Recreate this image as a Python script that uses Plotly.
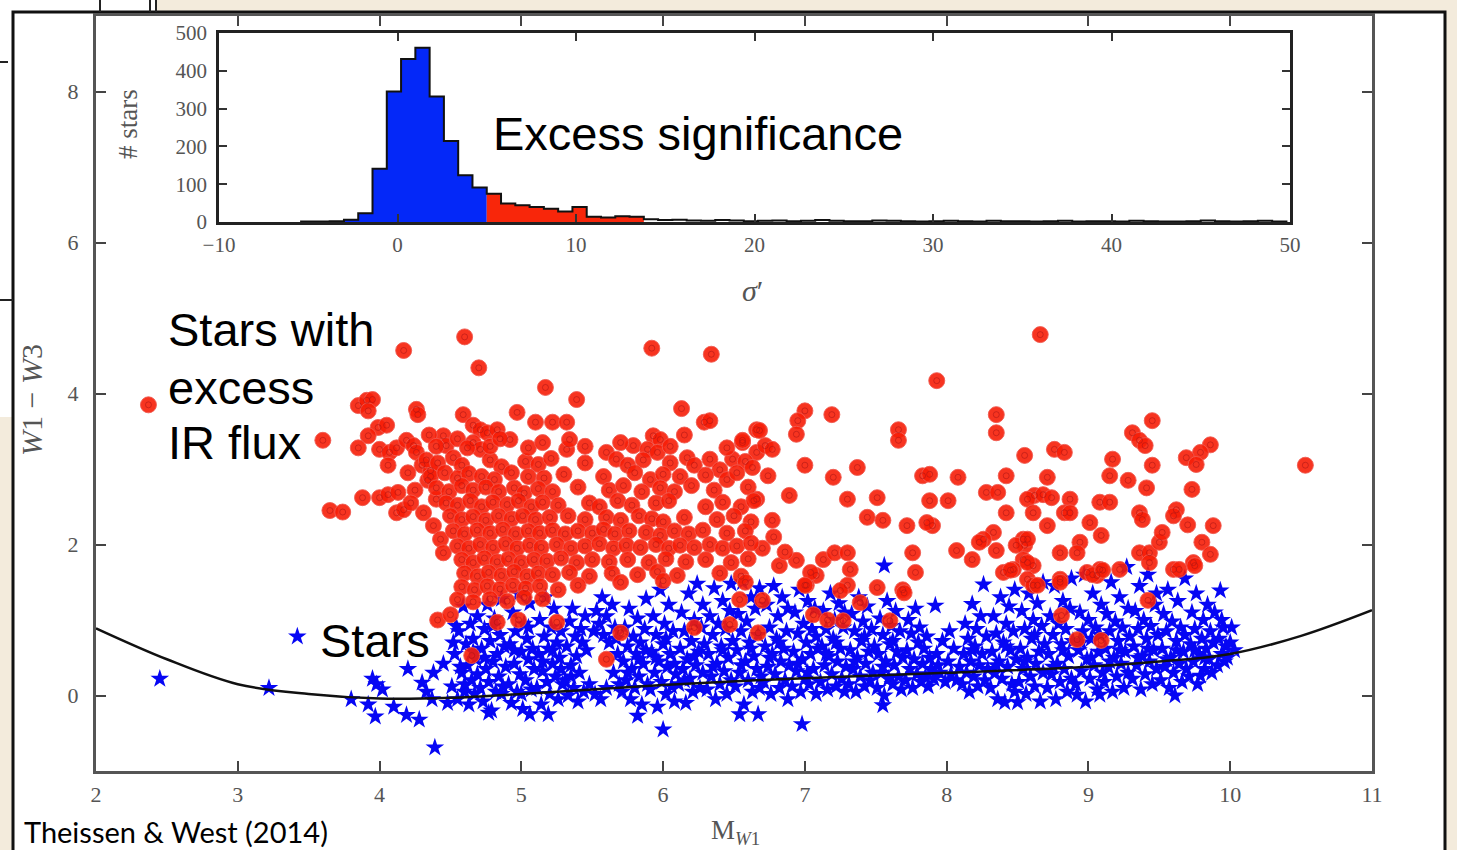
import plotly.graph_objects as go

W, H = 1457, 850

# ---------------- inset histogram of excess significance (sigma') ----------------
SIG_BIN_START = -5.4
SIG_BIN_WIDTH = 0.8
COUNTS_BELOW = [1, 1, 2, 6, 23, 141, 345, 431, 461, 332, 214, 124, 91]      # sigma' < 5
COUNTS_EXCESS = [75, 49, 44, 40, 35, 28, 40, 14, 12, 15, 14]               # 5 <= sigma' < 13.8
COUNTS_TAIL = [7, 5, 6, 4, 3, 5, 4, 2, 3, 4, 2, 3, 5, 3, 2, 2, 4, 3, 2, 1, 2, 3, 2,
               1, 3, 2, 2, 1, 2, 3, 1, 2, 2, 1, 3, 2, 1, 1, 2, 4, 2, 1, 2, 3, 1]
SIG_TICKS = [-10, 0, 10, 20, 30, 40, 50]
COUNT_TICKS = [0, 100, 200, 300, 400, 500]

# ---------------- colour-magnitude diagram: M_W1 vs W1 - W3 ----------------
MW1_TICKS = [2, 3, 4, 5, 6, 7, 8, 9, 10, 11]
COLOR_TICKS = [0, 2, 4, 6, 8]

# photospheric W1-W3 relation
CURVE_MW1 = [2.0, 2.5, 3.0, 3.5, 4.0, 4.5, 5.0, 5.5, 6.0, 7.0, 8.0, 9.0, 9.5, 10.0, 10.5, 11.0]
CURVE_COLOR = [0.89, 0.48, 0.15, 0.02, -0.04, -0.03, 0.02, 0.08, 0.14, 0.23, 0.30, 0.38, 0.45, 0.55, 0.79, 1.13]

# stars with excess IR flux (M_W1, W1-W3)
RED_UPPER = [
    (2.37, 3.85), (3.60, 3.38), (3.65, 2.45), (3.74, 2.43), (4.17, 4.57), (4.60, 4.75), (4.70, 4.34),
    (5.17, 4.08), (5.39, 3.92), (5.92, 4.60), (6.34, 4.52), (6.13, 3.80), (7.93, 4.17), (8.66, 4.78),
    (10.53, 3.05), (4.59, 3.72), (4.97, 3.75), (5.10, 3.62), (5.22, 3.62), (5.32, 3.62), (6.29, 3.62),
    (6.33, 3.64),
]
RED_LEFT = [
    (3.85, 3.84), (3.91, 3.91), (3.95, 3.92), (3.92, 3.77), (3.99, 3.55), (4.05, 3.58), (3.92, 3.44),
    (3.85, 3.28), (4.00, 3.26), (4.07, 3.22), (4.12, 3.28), (4.19, 3.38), (4.26, 3.79), (4.27, 3.72),
    (4.06, 3.05), (4.24, 3.31), (4.26, 3.22), (4.45, 3.44), (4.47, 3.31), (4.00, 2.62), (4.06, 2.66),
    (4.13, 2.69), (4.25, 2.72), (4.12, 2.42), (4.17, 2.46), (4.31, 2.42), (4.38, 2.25), (4.43, 2.07),
    (4.45, 1.89), (3.88, 2.62), (4.20, 2.95), (4.30, 3.05), (4.34, 2.85), (4.40, 2.60), (4.36, 2.98),
    (4.22, 2.55), (4.66, 3.58), (4.71, 3.52), (4.76, 3.48), (4.83, 3.52), (4.92, 3.39), (4.66, 3.35),
    (4.71, 3.26), (5.32, 3.26), (5.34, 3.39), (5.60, 3.22), (5.67, 3.13),
]
RED_MID = [
    (5.93, 3.44), (5.98, 3.39), (5.79, 3.31), (5.89, 3.26), (5.96, 3.22), (6.17, 3.15), (6.33, 3.13),
    (6.40, 2.99), (6.49, 3.13), (6.56, 3.35), (6.66, 3.52), (6.66, 3.22), (7.00, 3.77), (6.95, 3.64),
    (6.94, 3.46), (7.19, 3.72), (6.68, 3.51), (6.72, 3.31), (6.77, 3.26), (6.56, 3.38), (7.00, 3.05),
    (6.74, 2.91), (6.89, 2.65), (6.66, 2.60), (6.77, 2.32), (7.20, 2.89), (7.37, 3.02), (7.30, 2.60),
    (7.51, 2.62), (7.44, 2.36), (7.55, 2.32), (7.13, 1.80), (7.21, 1.89), (7.30, 1.89), (7.32, 1.67),
    (7.30, 1.46), (7.25, 1.39), (7.08, 1.59), (7.01, 1.46), (6.82, 1.72), (6.94, 1.79), (7.04, 1.63),
    (7.00, 1.46), (6.70, 1.95), (6.78, 2.10), (6.86, 1.90),
]
RED_RIGHT = [
    (7.66, 3.52), (7.66, 3.38), (8.35, 3.72), (8.35, 3.48), (9.45, 3.64), (9.31, 3.48), (9.36, 3.38),
    (9.40, 3.31), (9.86, 3.32), (9.79, 3.22), (9.69, 3.15), (9.76, 3.06), (8.55, 3.18), (8.76, 3.26),
    (8.83, 3.22), (9.17, 3.13), (9.15, 2.91), (9.28, 2.85), (9.41, 2.75), (9.45, 3.05), (7.83, 2.91),
    (7.88, 2.93), (8.08, 2.89), (7.88, 2.58), (8.01, 2.58), (8.42, 2.91), (8.28, 2.69), (8.36, 2.69),
    (8.71, 2.89), (8.62, 2.65), (8.68, 2.66), (8.74, 2.62), (8.87, 2.60), (8.83, 2.42), (9.08, 2.56),
    (9.15, 2.56), (9.73, 2.73), (9.36, 2.42), (9.38, 2.33), (9.62, 2.46), (9.60, 2.38), (9.70, 2.26),
    (9.88, 2.25), (9.80, 2.03), (8.57, 2.60), (8.61, 2.42), (8.71, 2.25), (8.54, 2.07), (8.55, 1.99),
    (8.42, 2.42), (8.33, 2.16), (8.26, 2.07), (8.23, 2.03), (8.87, 2.42), (9.01, 2.29), (9.09, 2.12),
    (8.94, 2.03), (8.80, 1.89), (8.92, 1.89), (9.36, 1.89), (9.43, 1.89), (9.50, 2.03), (9.52, 2.16),
    (9.74, 1.76), (9.60, 1.67), (9.08, 1.67), (9.22, 1.67), (8.99, 1.63), (9.06, 1.59), (8.07, 1.92),
    (8.18, 1.80), (8.35, 1.92), (8.49, 1.99), (8.57, 2.07), (8.54, 1.80), (8.61, 1.72), (8.57, 1.54),
    (8.47, 1.67), (8.40, 1.63), (8.61, 1.46), (8.80, 1.54), (7.76, 1.89), (7.78, 1.63), (7.69, 1.40),
    (7.72, 2.25), (7.90, 2.25), (7.86, 2.29), (7.51, 1.43), (7.39, 1.23), (8.45, 1.66), (8.57, 1.76),
    (9.03, 1.60), (9.10, 1.66), (9.64, 1.67), (9.75, 1.72), (9.43, 1.76), (9.86, 1.87),
]
RED_LOW = [
    (4.41, 1.00), (4.50, 1.07), (4.83, 0.97), (4.98, 1.00), (5.25, 0.97), (4.65, 0.53), (5.60, 0.48),
    (5.70, 0.83), (6.22, 0.90), (6.47, 0.94), (6.67, 0.83), (6.54, 1.27), (6.70, 1.26), (7.06, 1.07),
    (7.16, 1.00), (7.27, 0.99), (7.60, 0.99), (7.70, 1.36), (8.81, 1.06), (8.92, 0.74), (9.09, 0.73),
    (9.42, 1.26), (8.64, 1.46), (8.80, 1.50),
]
RED_CORE = [
    (4.33, 3.12), (4.41, 3.08), (4.52, 3.15), (4.58, 3.05), (4.78, 3.12), (4.86, 3.03), (5.03, 3.10),
    (5.12, 3.06), (5.21, 3.14), (5.45, 3.08), (5.75, 3.05), (5.86, 3.12), (6.05, 3.08), (6.22, 3.05),
    (6.58, 3.10), (6.63, 3.02),
    (4.36, 2.90), (4.46, 2.95), (4.55, 2.88), (4.63, 2.94), (4.72, 2.90), (4.81, 2.86), (4.93, 2.95),
    (5.05, 2.90), (5.16, 2.88), (5.30, 2.93), (5.58, 2.90), (5.80, 2.95), (5.91, 2.86), (6.00, 2.93),
    (6.12, 2.90), (6.30, 2.92), (6.45, 2.86), (6.52, 2.95),
    (4.40, 2.75), (4.49, 2.70), (4.58, 2.78), (4.66, 2.72), (4.75, 2.76), (4.84, 2.70), (4.95, 2.75),
    (5.02, 2.68), (5.12, 2.74), (5.22, 2.70), (5.40, 2.76), (5.62, 2.72), (5.72, 2.78), (5.85, 2.70),
    (5.98, 2.75), (6.08, 2.70), (6.20, 2.78), (6.36, 2.72), (6.60, 2.76),
    (4.47, 2.55), (4.55, 2.52), (4.64, 2.58), (4.72, 2.50), (4.80, 2.56), (4.90, 2.53), (4.98, 2.58),
    (5.07, 2.50), (5.15, 2.56), (5.26, 2.52), (5.48, 2.55), (5.55, 2.50), (5.68, 2.58), (5.78, 2.52),
    (5.95, 2.55), (6.04, 2.58), (6.30, 2.50), (6.42, 2.56), (6.55, 2.50), (6.64, 2.58),
    (4.50, 2.38), (4.58, 2.33), (4.66, 2.37), (4.75, 2.32), (4.84, 2.38), (4.93, 2.34), (5.01, 2.38),
    (5.10, 2.33), (5.20, 2.36), (5.33, 2.38), (5.45, 2.33), (5.60, 2.36), (5.70, 2.32), (5.83, 2.38),
    (5.92, 2.34), (6.00, 2.30), (6.15, 2.36), (6.38, 2.33), (6.50, 2.38), (6.62, 2.30),
    (4.52, 2.18), (4.60, 2.14), (4.69, 2.19), (4.78, 2.15), (4.87, 2.20), (4.96, 2.14), (5.05, 2.18),
    (5.13, 2.15), (5.22, 2.19), (5.31, 2.14), (5.40, 2.18), (5.50, 2.15), (5.58, 2.20), (5.66, 2.14),
    (5.76, 2.18), (5.88, 2.16), (5.98, 2.12), (6.08, 2.18), (6.18, 2.14), (6.28, 2.19), (6.45, 2.15),
    (6.58, 2.18),
    (4.55, 1.98), (4.63, 1.95), (4.71, 2.00), (4.80, 1.96), (4.89, 2.01), (4.97, 1.95), (5.06, 1.99),
    (5.14, 1.96), (5.25, 2.00), (5.35, 1.95), (5.45, 1.98), (5.55, 2.01), (5.65, 1.95), (5.74, 1.99),
    (5.84, 1.96), (5.95, 2.00), (6.04, 1.95), (6.12, 1.99), (6.22, 1.96), (6.33, 2.00), (6.42, 1.95),
    (6.52, 1.98), (6.62, 2.02),
    (4.58, 1.80), (4.66, 1.76), (4.74, 1.82), (4.83, 1.77), (4.91, 1.81), (5.00, 1.76), (5.09, 1.80),
    (5.18, 1.78), (5.28, 1.82), (5.39, 1.76), (5.50, 1.80), (5.62, 1.77), (5.75, 1.80), (5.90, 1.76),
    (6.02, 1.81), (6.16, 1.77), (6.30, 1.80), (6.48, 1.76), (6.60, 1.81),
    (4.60, 1.62), (4.69, 1.58), (4.77, 1.63), (4.86, 1.59), (4.95, 1.64), (5.04, 1.58), (5.12, 1.62),
    (5.22, 1.60), (5.34, 1.63), (5.48, 1.58), (5.64, 1.62), (5.82, 1.60), (5.96, 1.64), (6.10, 1.59),
    (6.40, 1.62), (6.55, 1.58),
    (4.58, 1.44), (4.67, 1.40), (4.76, 1.45), (4.85, 1.41), (4.94, 1.46), (5.03, 1.42), (5.13, 1.45),
    (5.26, 1.40), (5.40, 1.46), (5.70, 1.50), (6.00, 1.52), (6.58, 1.50),
    (4.55, 1.27), (4.66, 1.24), (4.78, 1.28), (4.90, 1.25), (5.02, 1.30), (5.15, 1.28),
    (4.35, 3.45), (4.40, 3.30), (4.55, 3.40), (4.62, 3.28), (4.78, 3.30), (4.85, 3.40), (5.05, 3.28),
    (5.15, 3.35), (5.45, 3.30), (5.70, 3.35), (6.05, 3.30), (6.15, 3.45), (6.45, 3.28),
]

# stars without excess (M_W1, W1-W3)
BLUE_SPARSE = [
    (2.45, 0.22), (3.22, 0.10), (3.42, 0.78), (3.80, -0.05), (3.92, -0.12), (3.95, 0.22), (3.98, 0.15),
    (4.02, 0.08), (3.97, -0.28), (4.19, -0.26), (4.30, 0.17), (4.37, -0.05), (4.28, -0.32), (4.39, -0.69),
    (4.33, 0.05), (4.20, 0.35), (4.38, 0.30), (4.45, 0.42), (4.10, -0.15), (4.48, -0.10), (4.77, -0.23),
    (5.06, -0.25), (5.19, -0.25), (5.82, -0.27), (6.00, -0.45), (6.54, -0.25), (6.67, -0.25),
    (6.98, -0.38), (7.55, -0.13), (7.56, 1.72), (9.93, 1.39), (9.89, 1.10), (10.01, 0.90), (7.92, 1.19),
    (8.26, 1.47), (8.18, 1.21), (8.50, -0.09), (8.41, -0.09), (9.61, 0.00), (9.79, 0.26),
]
BLUE_45_57 = [
    (4.51, 0.12), (4.53, 0.55), (4.55, -0.05), (4.56, 0.85), (4.58, 0.30), (4.59, 1.18), (4.60, 0.05),
    (4.61, 0.68), (4.62, 0.40), (4.63, -0.12), (4.64, 0.95), (4.65, 0.20), (4.66, 0.75), (4.67, 0.02),
    (4.68, 0.48), (4.69, 1.05), (4.69, 0.28), (4.52, 0.70), (4.57, 0.38), (4.66, 0.58), (4.60, 0.15),
    (4.54, 0.92),
    (4.71, 0.10), (4.72, 0.62), (4.73, -0.08), (4.74, 0.88), (4.75, 0.35), (4.76, 1.20), (4.77, 0.18),
    (4.78, 0.72), (4.79, -0.20), (4.80, 0.45), (4.81, 1.02), (4.82, 0.05), (4.83, 0.55), (4.84, 0.25),
    (4.85, 0.80), (4.86, 1.28), (4.87, 0.12), (4.88, 0.65), (4.89, 0.38), (4.74, 0.50), (4.80, 0.92),
    (4.86, 0.02),
    (4.91, 0.15), (4.92, 0.68), (4.93, -0.10), (4.94, 1.10), (4.95, 0.42), (4.96, 0.85), (4.97, 0.05),
    (4.98, 1.35), (4.99, 0.28), (5.00, 0.58), (5.01, -0.18), (5.02, 0.95), (5.03, 0.20), (5.04, 0.75),
    (5.05, 0.48), (5.06, 1.22), (5.07, 0.08), (5.08, 0.62), (5.09, 0.35), (5.00, 0.02), (4.95, 0.60),
    (5.05, 0.90),
    (5.11, 0.10), (5.12, 0.55), (5.13, 1.00), (5.14, -0.12), (5.15, 0.32), (5.16, 0.78), (5.17, 1.30),
    (5.18, 0.18), (5.19, 0.62), (5.20, 0.02), (5.21, 0.90), (5.22, 0.42), (5.23, 1.15), (5.24, 0.25),
    (5.25, 0.70), (5.26, -0.05), (5.27, 0.50), (5.28, 0.85), (5.29, 0.15), (5.15, 0.45), (5.22, 0.60),
    (5.28, 0.35),
    (5.31, 0.20), (5.32, 0.65), (5.33, 0.00), (5.34, 0.98), (5.35, 0.40), (5.36, 1.15), (5.37, 0.10),
    (5.38, 0.78), (5.39, 0.52), (5.40, -0.08), (5.41, 0.30), (5.42, 0.88), (5.44, 0.05), (5.45, 1.05),
    (5.46, 0.60), (5.48, 0.15), (5.35, 0.25), (5.43, 0.70),
    (5.51, 0.85), (5.53, 1.12), (5.55, 0.95), (5.57, 1.30), (5.58, 0.80), (5.60, 1.05), (5.62, 0.70),
    (5.64, 1.20), (5.66, 0.90), (5.52, 0.02), (5.56, -0.05), (5.60, 0.10), (5.65, 0.30), (5.68, 0.55),
    (5.69, 0.15), (5.67, 0.75),
]
BLUE_57_79 = [
    (5.71, 0.05), (5.72, 0.45), (5.73, 0.90), (5.74, 0.20), (5.75, 0.65), (5.76, 1.15), (5.77, -0.05),
    (5.78, 0.35), (5.79, 0.78), (5.80, 0.10), (5.81, 0.55), (5.82, 1.02), (5.83, 0.25), (5.84, 0.70),
    (5.85, -0.12), (5.86, 0.42), (5.87, 0.88), (5.88, 1.28), (5.89, 0.15), (5.75, 0.30), (5.83, 0.48),
    (5.88, 0.60),
    (5.91, 0.08), (5.92, 0.58), (5.93, 1.05), (5.94, 0.30), (5.95, 0.80), (5.96, -0.15), (5.97, 0.45),
    (5.98, 1.40), (5.99, 0.18), (6.00, 0.68), (6.01, 0.95), (6.02, 0.02), (6.03, 0.38), (6.04, 1.20),
    (6.05, 0.55), (6.06, 0.12), (6.07, 0.85), (6.08, -0.08), (6.09, 0.28), (5.95, 0.50), (6.02, 0.75),
    (6.08, 0.42),
    (6.11, 0.15), (6.12, 0.62), (6.13, 1.10), (6.14, 0.35), (6.15, 0.85), (6.16, -0.10), (6.17, 0.48),
    (6.18, 1.35), (6.19, 0.22), (6.20, 0.72), (6.21, 0.05), (6.22, 1.00), (6.23, 0.40), (6.24, 1.48),
    (6.25, 0.58), (6.26, 0.10), (6.27, 0.90), (6.28, 0.30), (6.29, 0.68), (6.15, 0.20), (6.22, 0.52),
    (6.28, 1.20),
    (6.31, 0.08), (6.32, 0.55), (6.33, 1.05), (6.34, 0.25), (6.35, 0.80), (6.36, 1.42), (6.37, -0.05),
    (6.38, 0.42), (6.39, 0.95), (6.40, 0.15), (6.41, 0.65), (6.42, 1.25), (6.43, 0.32), (6.44, 0.88),
    (6.45, 0.02), (6.46, 0.50), (6.47, 1.12), (6.48, 0.20), (6.49, 0.72), (6.35, 0.38), (6.42, 0.60),
    (6.48, 1.48),
    (6.51, 0.12), (6.52, 0.60), (6.53, 1.08), (6.54, 0.30), (6.55, 0.85), (6.56, 1.50), (6.57, -0.12),
    (6.58, 0.45), (6.59, 0.98), (6.60, 0.20), (6.61, 0.70), (6.62, 1.30), (6.63, 0.05), (6.64, 0.52),
    (6.65, 1.15), (6.66, 0.35), (6.67, 0.80), (6.68, 1.42), (6.69, 0.25), (6.55, 0.40), (6.62, 0.62),
    (6.68, 0.10),
    (6.71, 0.18), (6.72, 0.65), (6.73, 1.20), (6.74, 0.38), (6.75, 0.90), (6.76, 0.02), (6.77, 0.55),
    (6.78, 1.45), (6.79, 0.28), (6.80, 0.75), (6.81, 1.05), (6.82, 0.10), (6.83, 0.45), (6.84, 1.30),
    (6.85, 0.62), (6.86, 0.20), (6.87, 0.85), (6.88, -0.05), (6.89, 0.40), (6.75, 0.50), (6.82, 0.70),
    (6.88, 1.15),
    (6.91, 0.12), (6.92, 0.58), (6.93, 1.10), (6.94, 0.32), (6.95, 0.82), (6.96, 1.40), (6.97, 0.05),
    (6.98, 0.48), (6.99, 0.95), (7.00, 0.22), (7.01, 0.70), (7.02, 1.25), (7.03, 0.15), (7.04, 0.55),
    (7.05, 0.88), (7.06, 0.35), (7.07, 1.15), (7.08, 0.02), (7.09, 0.62), (6.95, 0.42), (7.02, 0.30),
    (7.08, 0.78),
    (7.11, 0.18), (7.12, 0.65), (7.13, 1.12), (7.14, 0.40), (7.15, 0.88), (7.16, 0.08), (7.17, 0.52),
    (7.18, 1.35), (7.19, 0.28), (7.20, 0.75), (7.21, 1.00), (7.22, 0.12), (7.23, 0.45), (7.24, 1.22),
    (7.25, 0.62), (7.26, 0.22), (7.27, 0.90), (7.28, 0.05), (7.29, 0.38), (7.15, 0.55), (7.22, 0.70),
    (7.28, 1.10),
    (7.31, 0.15), (7.32, 0.60), (7.33, 1.08), (7.34, 0.35), (7.35, 0.85), (7.36, 0.05), (7.37, 0.50),
    (7.38, 1.30), (7.39, 0.25), (7.40, 0.72), (7.41, 0.98), (7.42, 0.12), (7.43, 0.42), (7.44, 1.18),
    (7.45, 0.58), (7.46, 0.20), (7.47, 0.88), (7.48, 0.30), (7.49, 0.65), (7.35, 0.45), (7.42, 0.78),
    (7.51, 0.10), (7.52, 0.55), (7.53, 1.02), (7.54, 0.30), (7.55, 0.80), (7.56, 0.00), (7.57, 0.45),
    (7.58, 1.25), (7.59, 0.22), (7.60, 0.68), (7.61, 0.92), (7.62, 0.15), (7.63, 0.40), (7.64, 1.12),
    (7.65, 0.58), (7.66, 0.25), (7.67, 0.85), (7.68, 0.08), (7.69, 0.50), (7.55, 0.38), (7.62, 0.72),
    (7.71, 0.20), (7.72, 0.60), (7.73, 1.00), (7.74, 0.35), (7.75, 0.82), (7.76, 0.10), (7.77, 0.48),
    (7.78, 1.15), (7.79, 0.28), (7.80, 0.70), (7.81, 0.90), (7.82, 0.18), (7.83, 0.42), (7.84, 0.62),
    (7.85, 0.25), (7.86, 0.78), (7.87, 0.12), (7.88, 0.50), (7.89, 0.35),
]
BLUE_79_101 = [
    (7.91, 0.22), (7.93, 0.55), (7.95, 0.30), (7.97, 0.72), (7.99, 0.18), (8.01, 0.45), (8.03, 0.28),
    (8.05, 0.62), (8.07, 0.20), (8.09, 0.38), (7.94, 0.40), (8.02, 0.85),
    (8.11, 0.15), (8.12, 0.55), (8.13, 0.95), (8.14, 0.30), (8.15, 0.75), (8.16, 0.05), (8.17, 0.45),
    (8.19, 0.25), (8.20, 0.65), (8.21, 0.88), (8.22, 0.12), (8.23, 0.40), (8.24, 1.05), (8.25, 0.55),
    (8.27, 0.20), (8.28, 0.78), (8.29, 0.35), (8.18, 0.60),
    (8.31, 0.10), (8.32, 0.58), (8.33, 1.05), (8.34, 0.30), (8.35, 0.82), (8.36, -0.05), (8.37, 0.45),
    (8.38, 1.30), (8.39, 0.22), (8.40, 0.70), (8.42, 0.95), (8.43, 0.38), (8.44, 1.18), (8.45, 0.60),
    (8.46, 0.15), (8.47, 0.85), (8.48, 0.05), (8.49, 0.48), (8.35, 0.40), (8.42, 0.65), (8.48, 1.40),
    (8.51, 0.18), (8.52, 0.62), (8.53, 1.12), (8.54, 0.35), (8.55, 0.88), (8.56, 0.02), (8.57, 0.50),
    (8.58, 1.35), (8.59, 0.25), (8.60, 0.75), (8.61, 1.00), (8.62, 0.12), (8.63, 0.42), (8.64, 1.22),
    (8.65, 0.58), (8.66, -0.08), (8.67, 0.92), (8.68, 0.30), (8.69, 0.68), (8.55, 0.45), (8.62, 0.80),
    (8.68, 1.50),
    (8.71, 0.10), (8.72, 0.55), (8.73, 1.05), (8.74, 0.28), (8.75, 0.80), (8.76, 1.45), (8.77, -0.05),
    (8.78, 0.42), (8.79, 0.95), (8.80, 0.18), (8.81, 0.68), (8.82, 1.25), (8.83, 0.35), (8.84, 0.88),
    (8.85, 0.05), (8.86, 0.52), (8.87, 1.15), (8.88, 0.22), (8.89, 0.72), (8.75, 0.38), (8.82, 0.60),
    (8.88, 1.55),
    (8.91, 0.15), (8.92, 0.01), (8.93, 0.60), (8.94, 1.10), (8.95, 0.32), (8.96, 0.85), (8.97, 1.60),
    (8.98, -0.08), (8.99, 0.48), (9.00, 1.00), (9.01, 0.22), (9.02, 0.75), (9.03, 1.35), (9.04, 0.40),
    (9.05, 0.90), (9.06, 0.08), (9.07, 0.58), (9.08, 0.01), (9.09, 1.20), (9.10, 0.30), (8.95, 0.70),
    (9.02, 0.50), (9.08, 0.80),
    (9.11, 0.18), (9.12, 0.62), (9.13, 1.08), (9.14, 0.38), (9.15, 0.85), (9.16, 1.50), (9.17, 0.05),
    (9.18, 0.50), (9.19, 0.98), (9.20, 0.25), (9.21, 0.72), (9.22, 1.30), (9.23, 0.42), (9.24, 0.90),
    (9.25, 0.10), (9.26, 0.58), (9.27, 1.70), (9.28, 0.30), (9.29, 0.78), (9.15, 0.45), (9.22, 0.60),
    (9.28, 1.15),
    (9.31, 0.22), (9.32, 0.65), (9.33, 1.12), (9.34, 0.40), (9.35, 0.88), (9.36, 1.45), (9.37, 0.08),
    (9.38, 0.52), (9.39, 1.00), (9.40, 0.28), (9.41, 0.75), (9.42, 1.60), (9.43, 0.45), (9.44, 0.92),
    (9.45, 0.15), (9.46, 0.60), (9.47, 1.20), (9.48, 0.35), (9.49, 0.80), (9.35, 0.50), (9.42, 0.62),
    (9.48, 1.35),
    (9.51, 0.20), (9.52, 0.62), (9.53, 1.08), (9.54, 0.38), (9.55, 0.85), (9.56, 1.40), (9.57, 0.10),
    (9.58, 0.50), (9.59, 0.98), (9.60, 0.30), (9.62, 0.72), (9.63, 1.25), (9.64, 0.42), (9.65, 0.90),
    (9.66, 0.18), (9.67, 0.58), (9.68, 1.55), (9.69, 0.35), (9.55, 0.48), (9.62, 0.60), (9.68, 0.80),
    (9.71, 0.25), (9.72, 0.68), (9.73, 1.10), (9.74, 0.45), (9.75, 0.88), (9.76, 1.35), (9.77, 0.15),
    (9.78, 0.55), (9.80, 0.75), (9.81, 1.00), (9.82, 0.35), (9.83, 0.62), (9.84, 1.20), (9.85, 0.48),
    (9.86, 0.85), (9.87, 0.30), (9.88, 0.70), (9.75, 0.60), (9.82, 0.50),
    (9.91, 0.40), (9.92, 0.75), (9.94, 0.55), (9.95, 0.90), (9.96, 0.45), (9.97, 0.65), (9.98, 0.50),
    (10.00, 0.70), (10.03, 0.60), (9.94, 1.00),
]


def px(x):
    return x / W


def py(y):
    return 1 - y / H


def step_outline(start, width, counts):
    edges = [round(start + i * width, 4) for i in range(len(counts) + 1)]
    xs = [edges[0]] + edges[:-1] + [edges[-1]]
    ys = [0] + list(counts) + [0]
    return xs, ys


BLUE = BLUE_SPARSE + BLUE_45_57 + BLUE_57_79 + BLUE_79_101
RED = RED_UPPER + RED_LEFT + RED_MID + RED_RIGHT + RED_LOW + RED_CORE
red_x = [p[0] for p in RED]
red_y = [p[1] for p in RED]

fig = go.Figure()

# stars consistent with photospheric colours
fig.add_trace(go.Scatter(
    x=[p[0] for p in BLUE], y=[p[1] for p in BLUE], mode="markers",
    marker=dict(symbol="star", size=14, color="#0606f4", line=dict(width=0)),
    xaxis="x", yaxis="y", hoverinfo="skip",
))
# photospheric relation
fig.add_trace(go.Scatter(
    x=CURVE_MW1, y=CURVE_COLOR, mode="lines", line=dict(color="#111", width=2.5, shape="spline"),
    xaxis="x", yaxis="y", hoverinfo="skip",
))
# stars with IR excess: filled disc plus the small inner ring of the marker
fig.add_trace(go.Scatter(
    x=red_x, y=red_y, mode="markers",
    marker=dict(symbol="circle", size=16, color="rgba(246,30,8,0.9)",
                line=dict(width=1, color="rgba(240,90,80,0.9)")),
    xaxis="x", yaxis="y", hoverinfo="skip",
))
fig.add_trace(go.Scatter(
    x=red_x, y=red_y, mode="markers",
    marker=dict(symbol="circle-open", size=6, color="rgba(170,20,20,0.55)", line=dict(width=1)),
    xaxis="x", yaxis="y", hoverinfo="skip",
))

# inset histogram
n_below = len(COUNTS_BELOW)
x_start_excess = SIG_BIN_START + n_below * SIG_BIN_WIDTH

bx, by = step_outline(SIG_BIN_START, SIG_BIN_WIDTH, COUNTS_BELOW)
fig.add_trace(go.Scatter(x=bx, y=by, mode="lines", line=dict(width=0, shape="hv"),
                         fill="tozeroy", fillcolor="#0428f8", xaxis="x2", yaxis="y2", hoverinfo="skip"))
rx, ry = step_outline(x_start_excess, SIG_BIN_WIDTH, COUNTS_EXCESS)
fig.add_trace(go.Scatter(x=rx, y=ry, mode="lines", line=dict(width=0, shape="hv"),
                         fill="tozeroy", fillcolor="#f8260a", xaxis="x2", yaxis="y2", hoverinfo="skip"))
ax, ay = step_outline(SIG_BIN_START, SIG_BIN_WIDTH, COUNTS_BELOW + COUNTS_EXCESS + COUNTS_TAIL)
fig.add_trace(go.Scatter(x=ax, y=ay, mode="lines", line=dict(width=2, color="#111", shape="hv"),
                         xaxis="x2", yaxis="y2", hoverinfo="skip"))

tick_font = dict(family="Liberation Serif, DejaVu Serif, serif", size=22, color="#555")
inset_font = dict(family="Liberation Serif, DejaVu Serif, serif", size=21, color="#555")

main_dom_x = [px(96), px(1372)]
main_dom_y = [py(771), py(16)]
inset_dom_x = [px(219), px(1290)]
inset_dom_y = [py(222), py(33)]

common = dict(showgrid=False, zeroline=False, automargin=False, ticks="inside")

fig.update_layout(
    template="none",
    width=W, height=H,
    autosize=False,
    margin=dict(l=0, r=0, t=0, b=0, pad=0),
    paper_bgcolor="#f3ebdc",
    plot_bgcolor="white",
    showlegend=False,
    xaxis=dict(domain=main_dom_x, anchor="y", range=[2, 11], tickvals=MW1_TICKS,
               ticklen=10, tickwidth=2, tickcolor="#444",
               showline=True, linewidth=3, linecolor="#555", mirror="ticks",
               tickfont=tick_font, ticklabelstandoff=2, **common),
    yaxis=dict(domain=main_dom_y, anchor="x", range=[-1, 9], tickvals=COLOR_TICKS,
               ticklen=10, tickwidth=2, tickcolor="#444",
               showline=True, linewidth=3, linecolor="#555", mirror="ticks",
               tickfont=tick_font, ticklabelstandoff=10, **common),
    xaxis2=dict(domain=inset_dom_x, anchor="y2", range=[-10, 50], tickvals=SIG_TICKS,
                ticktext=[("\u2212" + str(-t)) if t < 0 else str(t) for t in SIG_TICKS],
                ticklen=8, tickwidth=2, tickcolor="#333",
                showline=True, linewidth=2.5, linecolor="#222", mirror="ticks",
                tickfont=inset_font, ticklabelstandoff=2, **common),
    yaxis2=dict(domain=inset_dom_y, anchor="x2", range=[0, 500], tickvals=COUNT_TICKS,
                ticklen=8, tickwidth=2, tickcolor="#333",
                showline=True, linewidth=2.5, linecolor="#222", mirror="ticks",
                tickfont=inset_font, ticklabelstandoff=5, **common),
)

# slide panel and the edges of neighbouring slide elements
shapes = [
    dict(type="rect", xref="paper", yref="paper", x0=0, x1=px(157), y0=py(12), y1=1,
         fillcolor="white", line=dict(width=0), layer="below"),
    dict(type="rect", xref="paper", yref="paper", x0=0, x1=px(14), y0=py(417), y1=1,
         fillcolor="white", line=dict(width=0), layer="below"),
    dict(type="rect", xref="paper", yref="paper", x0=px(13), x1=px(1445), y0=-0.02, y1=py(12),
         fillcolor="white", line=dict(width=3, color="#111"), layer="below"),
]
for xv in (100, 150, 156):
    shapes.append(dict(type="line", xref="paper", yref="paper", x0=px(xv), x1=px(xv), y0=py(12), y1=1,
                       line=dict(width=2, color="#222"), layer="below"))
shapes.append(dict(type="line", xref="paper", yref="paper", x0=0, x1=px(8), y0=py(62), y1=py(62),
                   line=dict(width=2, color="#222"), layer="below"))
shapes.append(dict(type="line", xref="paper", yref="paper", x0=0, x1=px(13), y0=py(300), y1=py(300),
                   line=dict(width=2, color="#222"), layer="below"))
fig.update_layout(shapes=shapes)

serif = "Liberation Serif, DejaVu Serif, serif"
sans = "Liberation Sans, Arial, Helvetica, sans-serif"
annotations = [
    dict(text="Excess significance", x=px(491), y=py(133), xanchor="left", yanchor="middle",
         font=dict(family=sans, size=47, color="black")),
    dict(text="Stars with", x=px(166), y=py(330), xanchor="left", yanchor="middle",
         font=dict(family=sans, size=47, color="black")),
    dict(text="excess", x=px(166), y=py(387), xanchor="left", yanchor="middle",
         font=dict(family=sans, size=47, color="black")),
    dict(text="IR flux", x=px(166), y=py(442), xanchor="left", yanchor="middle",
         font=dict(family=sans, size=47, color="black")),
    dict(text="Stars", x=px(318), y=py(640), xanchor="left", yanchor="middle",
         font=dict(family=sans, size=47, color="black")),
    dict(text="Theissen & West (2014)", x=px(22), y=py(831), xanchor="left", yanchor="middle",
         font=dict(family="Lato, Open Sans, sans-serif", size=29, color="black")),
    dict(text="<i>σ</i>′", x=px(752), y=py(290), xanchor="center", yanchor="middle",
         font=dict(family=serif, size=30, color="#555")),
    dict(text="# stars", x=px(128), y=py(124), xanchor="center", yanchor="middle", textangle=-90,
         font=dict(family=serif, size=27, color="#555")),
    dict(text="M<sub><i>W</i>1</sub>", x=px(735), y=py(832), xanchor="center", yanchor="middle",
         font=dict(family=serif, size=27, color="#555")),
    dict(text="<i>W</i>1 − <i>W</i>3", x=px(31), y=py(400), xanchor="center", yanchor="middle",
         textangle=-90, font=dict(family=serif, size=30, color="#555")),
]
for a in annotations:
    a.update(xref="paper", yref="paper", showarrow=False)
fig.update_layout(annotations=annotations)

fig.write_html("out.html")
